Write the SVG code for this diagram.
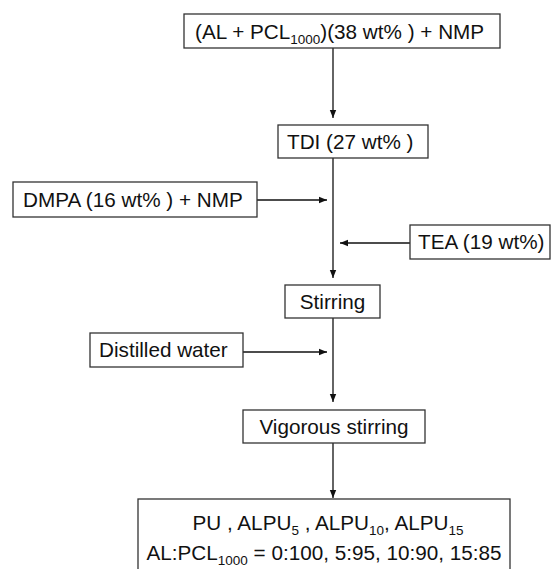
<svg xmlns="http://www.w3.org/2000/svg" width="552" height="569" viewBox="0 0 552 569">
<defs>
<marker id="ah" viewBox="0 0 10 10" refX="10" refY="5" markerWidth="9" markerHeight="8" markerUnits="userSpaceOnUse" orient="auto">
<path d="M0,1 L10,5 L0,9 Z" fill="#111"/>
</marker>
<style>
.box{fill:#fff;stroke:#333;stroke-width:1.3}
.t{font-family:"Liberation Sans",Arial,sans-serif;font-size:20.7px;fill:#111}
.s{font-size:13.5px}
.c{fill:none;stroke:#111;stroke-width:1.3;marker-end:url(#ah)}
</style>
</defs>
<rect width="552" height="569" fill="#fff"/>
<g id="connectors">
<line class="c" x1="333" y1="48" x2="333" y2="118"/>
<line class="c" x1="333" y1="158" x2="333" y2="278"/>
<line class="c" x1="257" y1="200" x2="327" y2="200"/>
<line class="c" x1="410" y1="243" x2="340" y2="243"/>
<line class="c" x1="333" y1="318" x2="333" y2="402"/>
<line class="c" x1="243" y1="352" x2="327" y2="352"/>
<line class="c" x1="333" y1="443" x2="333" y2="498"/>
</g>
<g id="n1">
<rect class="box" x="184" y="14" width="316" height="34"/>
<text class="t" x="195" y="38.5">(AL + PCL<tspan class="s" dy="5">1000</tspan><tspan dy="-5">)(38 wt% ) + NMP</tspan></text>
</g>
<g id="n2">
<rect class="box" x="278" y="125" width="150" height="33"/>
<text class="t" x="287" y="149">TDI (27 wt% )</text>
</g>
<g id="n3">
<rect class="box" x="13" y="182" width="244" height="35"/>
<text class="t" x="23" y="207">DMPA (16 wt% ) + NMP</text>
</g>
<g id="n4">
<rect class="box" x="410" y="225" width="140" height="34"/>
<text class="t" x="418" y="249">TEA (19 wt%)</text>
</g>
<g id="n5">
<rect class="box" x="285" y="285" width="95" height="33"/>
<text class="t" x="332.5" y="309" text-anchor="middle">Stirring</text>
</g>
<g id="n6">
<rect class="box" x="90" y="333" width="153" height="34"/>
<text class="t" x="99" y="357">Distilled water</text>
</g>
<g id="n7">
<rect class="box" x="243" y="410" width="182" height="33"/>
<text class="t" x="334" y="434" text-anchor="middle">Vigorous stirring</text>
</g>
<g id="n8">
<rect class="box" x="138" y="499" width="372" height="90"/>
<text class="t" x="328" y="530" text-anchor="middle">PU , ALPU<tspan class="s" dy="5">5</tspan><tspan dy="-5"> , ALPU</tspan><tspan class="s" dy="5">10</tspan><tspan dy="-5">, ALPU</tspan><tspan class="s" dy="5">15</tspan></text>
<text class="t" x="324" y="560" text-anchor="middle">AL:PCL<tspan class="s" dy="5">1000</tspan><tspan dy="-5"> = 0:100, 5:95, 10:90, 15:85</tspan></text>
</g>
</svg>
